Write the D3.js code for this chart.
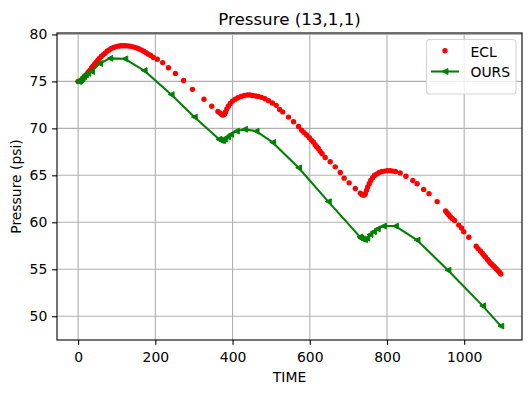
<!DOCTYPE html>
<html>
<head>
<meta charset="utf-8">
<script src="https://cdn.jsdelivr.net/npm/d3@7"></script>
<style>
  body { margin: 0; background: #fff; }
  svg text { font-family: "DejaVu Sans", sans-serif; fill: #000; }
</style>
</head>
<body>
<div id="chart"></div>
<script>
// ECL reference solution (red dots)
const eclTime = [
  0, 2, 4, 6, 8, 10, 13, 16, 19, 22, 25, 28, 31, 35, 39, 43, 47, 51, 55, 60,
  65, 70, 75, 80, 86, 92, 98, 104, 110, 116, 122, 128, 134, 140, 146, 152, 158, 164, 170, 176,
  182, 188, 195, 205, 219, 234, 252, 273, 296, 326, 346, 362, 367, 370, 373, 376, 379, 382, 385, 389,
  394, 400, 407, 414, 422, 430, 438, 445, 452, 460, 467, 475, 484, 493, 503, 513, 522, 530, 545, 558,
  571, 579, 585, 592, 599, 604, 609, 614, 618, 622, 627, 632, 640, 653, 666, 679, 689, 702, 718, 731,
  735, 738, 741, 744, 747, 750, 754, 758, 763, 768, 774, 780, 787, 794, 801, 808, 815, 822, 834, 849,
  867, 878, 895, 909, 930, 952, 956, 960, 964, 969, 975, 986, 993, 999, 1012, 1031, 1036, 1042, 1047, 1051,
  1055, 1060, 1064, 1068, 1072, 1076, 1080, 1084, 1088, 1092, 1095
];
const eclPressure = [
  75.0, 75.0, 75.02, 75.05, 75.1, 75.2, 75.3, 75.45, 75.6, 75.75, 75.9, 76.05, 76.2, 76.45, 76.65, 76.85, 77.05, 77.25, 77.45, 77.65,
  77.85, 78.0, 78.2, 78.35, 78.5, 78.6, 78.7, 78.75, 78.8, 78.8, 78.8, 78.78, 78.75, 78.7, 78.62, 78.55, 78.45, 78.33, 78.2, 78.05,
  77.9, 77.75, 77.55, 77.35, 77.0, 76.45, 75.85, 75.1, 74.15, 73.1, 72.35, 71.8, 71.65, 71.55, 71.45, 71.42, 71.5, 71.75, 72.05, 72.35,
  72.65, 72.9, 73.1, 73.25, 73.4, 73.5, 73.55, 73.55, 73.5, 73.45, 73.4, 73.3, 73.15, 72.95, 72.7, 72.45, 72.0, 71.75, 71.2, 70.7,
  70.2, 69.8, 69.55, 69.3, 69.0, 68.75, 68.55, 68.25, 68.05, 67.85, 67.55, 67.3, 66.9, 66.45, 65.9, 65.3, 64.7, 64.2, 63.6, 63.1,
  62.95, 62.9, 62.9, 63.05, 63.4, 63.75, 64.1, 64.45, 64.75, 65.0, 65.15, 65.3, 65.4, 65.45, 65.5, 65.5, 65.45, 65.4, 65.25, 64.9,
  64.45, 64.1, 63.5, 63.05, 62.2, 61.2, 61.0, 60.8, 60.6, 60.4, 60.2, 59.7, 59.4, 59.0, 58.4, 57.45, 57.2, 56.95, 56.7, 56.5,
  56.3, 56.05, 55.85, 55.65, 55.5, 55.35, 55.2, 55.0, 54.85, 54.65, 54.5
];

// our simulator (green line)
const oursTime = [
  0, 2, 4, 7, 10, 14, 19, 25, 35, 56, 82, 121, 171, 241, 301, 365,
  368, 371, 375, 380, 387, 395, 410, 431, 461, 504, 571, 648, 730,
  733, 737, 742, 748, 756, 765, 775, 791, 822, 878, 958, 1048, 1095
];
const oursPressure = [
  75.0, 75.0, 75.05, 75.15, 75.3, 75.5, 75.7, 75.85, 76.05, 76.9, 77.45, 77.4, 76.15, 73.6, 71.2, 68.85,
  68.75, 68.7, 68.7, 68.85, 69.1, 69.35, 69.7, 69.9, 69.7, 68.5, 65.8, 62.2, 58.45,
  58.3, 58.2, 58.15, 58.3, 58.7, 59.0, 59.3, 59.6, 59.6, 58.1, 54.9, 51.1, 48.95
];

const xTicks = [0, 200, 400, 600, 800, 1000];
const yTicks = [50, 55, 60, 65, 70, 75, 80];

const chartTitle = "Pressure (13,1,1)";
const xLabel = "TIME";
const yLabel = "Pressure (psi)";
const seriesNames = ["ECL", "OURS"];

const settings = {
  width: 531,
  height: 393,
  left: 57, right: 522, top: 33, bottom: 340
};

const svg = d3.select("#chart")
  .append("svg")
  .attr("width", settings.width)
  .attr("height", settings.height);

const x = d3.scaleLinear().domain([-54.75, 1149.75]).range([settings.left, settings.right]);
const y = d3.scaleLinear().domain([47.47, 80.15]).range([settings.bottom, settings.top]);

// grid
const grid = svg.append("g").attr("stroke", "#b0b0b0").attr("stroke-width", 1.1);
grid.selectAll("line.vgrid")
  .data(xTicks)
  .join("line")
  .attr("class", "vgrid")
  .attr("x1", d => x(d)).attr("x2", d => x(d))
  .attr("y1", settings.top).attr("y2", settings.bottom);
grid.selectAll("line.hgrid")
  .data(yTicks)
  .join("line")
  .attr("class", "hgrid")
  .attr("x1", settings.left).attr("x2", settings.right)
  .attr("y1", d => y(d)).attr("y2", d => y(d));

// axes
const xAxis = svg.append("g")
  .attr("transform", `translate(0,${settings.bottom})`)
  .call(d3.axisBottom(x).tickValues(xTicks).tickSize(4.86).tickPadding(7).tickFormat(d3.format("d")));
const yAxis = svg.append("g")
  .attr("transform", `translate(${settings.left},0)`)
  .call(d3.axisLeft(y).tickValues(yTicks).tickSize(4.86).tickPadding(4.86).tickFormat(d3.format("d")));
[xAxis, yAxis].forEach(g => {
  g.select(".domain").remove();
  g.selectAll(".tick line").attr("stroke", "#000").attr("stroke-width", 1.1);
  g.selectAll(".tick text").attr("font-size", 13.9).attr("font-family", "DejaVu Sans");
});

// series data
const ecl = eclTime.map((t, i) => ({ t: t, p: eclPressure[i] }));
const ours = oursTime.map((t, i) => ({ t: t, p: oursPressure[i] }));

const plot = svg.append("g");

// ECL dots
plot.selectAll("circle.ecl")
  .data(ecl)
  .join("circle")
  .attr("class", "ecl")
  .attr("cx", d => x(d.t))
  .attr("cy", d => y(d.p))
  .attr("r", 2.7)
  .attr("fill", "#ff0000");

// OURS line with left triangle markers
const line = d3.line().x(d => x(d.t)).y(d => y(d.p));
plot.append("path")
  .datum(ours)
  .attr("d", line)
  .attr("fill", "none")
  .attr("stroke", "#008000")
  .attr("stroke-width", 2.08)
  .attr("stroke-linejoin", "round");

const tri = "M-2.9,0L2.9,-2.9L2.9,2.9Z";
plot.selectAll("path.ours")
  .data(ours)
  .join("path")
  .attr("class", "ours")
  .attr("d", tri)
  .attr("transform", d => `translate(${x(d.t)},${y(d.p)})`)
  .attr("fill", "#008000")
  .attr("stroke", "#008000")
  .attr("stroke-width", 1);

// spines
svg.append("rect")
  .attr("x", settings.left).attr("y", settings.top)
  .attr("width", settings.right - settings.left)
  .attr("height", settings.bottom - settings.top)
  .attr("fill", "none")
  .attr("stroke", "#000")
  .attr("stroke-width", 1.1);

// title and labels
svg.append("text")
  .attr("x", (settings.left + settings.right) / 2)
  .attr("y", 24.5)
  .attr("text-anchor", "middle")
  .attr("font-size", 16.7)
  .text(chartTitle);

svg.append("text")
  .attr("x", (settings.left + settings.right) / 2)
  .attr("y", 381.5)
  .attr("text-anchor", "middle")
  .attr("font-size", 13.9)
  .text(xLabel);

svg.append("text")
  .attr("transform", `translate(20.5,${(settings.top + settings.bottom) / 2}) rotate(-90)`)
  .attr("text-anchor", "middle")
  .attr("font-size", 13.9)
  .text(yLabel);

// legend
const legend = svg.append("g");
legend.append("rect")
  .attr("x", 426.5).attr("y", 39.5)
  .attr("width", 89.5).attr("height", 54.5)
  .attr("rx", 3)
  .attr("fill", "#fff")
  .attr("fill-opacity", 0.8)
  .attr("stroke", "#d6d6d6")
  .attr("stroke-width", 1.1);

legend.append("circle")
  .attr("cx", 445).attr("cy", 50.7)
  .attr("r", 2.7)
  .attr("fill", "#ff0000");
legend.append("line")
  .attr("x1", 431).attr("x2", 459)
  .attr("y1", 71.5).attr("y2", 71.5)
  .attr("stroke", "#008000")
  .attr("stroke-width", 2.08);
legend.append("path")
  .attr("d", tri)
  .attr("transform", "translate(445,71.5)")
  .attr("fill", "#008000")
  .attr("stroke", "#008000")
  .attr("stroke-width", 1);

legend.selectAll("text.legend-label")
  .data(seriesNames)
  .join("text")
  .attr("class", "legend-label")
  .attr("x", 470.5)
  .attr("y", (d, i) => 56.5 + i * 20.3)
  .attr("font-size", 13.9)
  .text(d => d);
</script>
</body>
</html>
